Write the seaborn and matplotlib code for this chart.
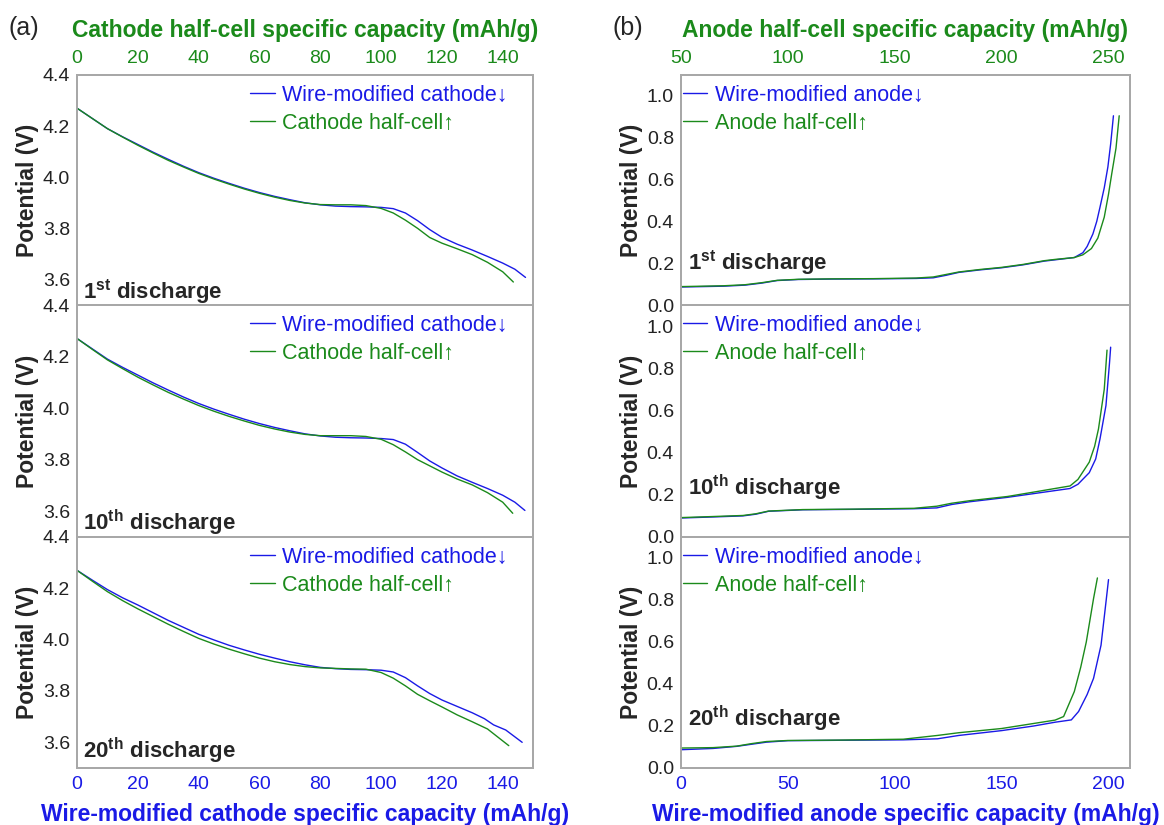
# plot.py
# discharge curves: wire-modified electrodes vs half-cells (cathode left, anode right)

import numpy as np
import pandas as pd
import matplotlib
matplotlib.use("Agg")
import matplotlib.pyplot as plt
import seaborn as sns

sns.set_style("white")
# fonts have to be set after seaborn or they get reset
plt.rcParams['font.family'] = ['Liberation Sans', 'DejaVu Sans']
plt.rcParams['mathtext.fontset'] = 'custom'
plt.rcParams['mathtext.rm'] = 'Liberation Sans'
plt.rcParams['mathtext.bf'] = 'Liberation Sans:bold'

BLUE = '#1a1ae6'
GREEN = '#1b8a1b'
GRAY = '#a8a8a8'

# ---- cathode data (capacity mAh/g, potential V) ----
# wire-modified cathode (bottom axis) and cathode half-cell (top axis)
cat1_blue_x = [0, 5, 10, 15, 20, 25, 30, 35, 40, 45, 50, 55, 60, 65, 70, 75, 80, 85, 90, 95, 100, 104, 108, 112, 116, 120, 125, 130, 135, 140, 144, 147.5]
cat1_blue_v = [4.27, 4.23, 4.19, 4.158, 4.128, 4.098, 4.07, 4.043, 4.018, 3.996, 3.976, 3.957, 3.94, 3.925, 3.912, 3.900, 3.892, 3.887, 3.885, 3.884, 3.882, 3.877, 3.86, 3.83, 3.795, 3.765, 3.738, 3.715, 3.69, 3.664, 3.64, 3.608]
cat1_green_x = [0, 5, 10, 15, 20, 25, 30, 35, 40, 45, 50, 55, 60, 65, 70, 75, 80, 85, 90, 95, 100, 104, 108, 112, 116, 120, 125, 130, 135, 140, 143.5]
cat1_green_v = [4.27, 4.23, 4.19, 4.157, 4.125, 4.095, 4.066, 4.04, 4.015, 3.993, 3.973, 3.954, 3.937, 3.922, 3.909, 3.899, 3.893, 3.892, 3.892, 3.889, 3.878, 3.86, 3.832, 3.80, 3.764, 3.742, 3.72, 3.697, 3.667, 3.63, 3.59]

cat10_blue_x = [0, 5, 10, 15, 20, 25, 30, 35, 40, 45, 50, 55, 60, 65, 70, 75, 80, 85, 90, 95, 100, 104, 108, 112, 116, 120, 125, 130, 135, 140, 144, 147.3]
cat10_blue_v = [4.27, 4.23, 4.19, 4.158, 4.128, 4.098, 4.07, 4.043, 4.018, 3.996, 3.976, 3.957, 3.94, 3.925, 3.912, 3.900, 3.892, 3.887, 3.885, 3.884, 3.882, 3.878, 3.86, 3.828, 3.795, 3.768, 3.737, 3.712, 3.688, 3.662, 3.635, 3.603]
cat10_green_x = [0, 5, 10, 15, 20, 25, 30, 35, 40, 45, 50, 55, 60, 65, 70, 75, 80, 85, 90, 95, 100, 104, 108, 112, 116, 120, 125, 130, 135, 140, 143.3]
cat10_green_v = [4.27, 4.228, 4.187, 4.153, 4.12, 4.09, 4.061, 4.035, 4.01, 3.988, 3.968, 3.95, 3.933, 3.919, 3.907, 3.898, 3.893, 3.893, 3.893, 3.89, 3.879, 3.858, 3.83, 3.80, 3.776, 3.752, 3.725, 3.702, 3.672, 3.635, 3.592]

cat20_blue_x = [0, 5, 10, 15, 20, 25, 30, 35, 40, 45, 50, 55, 60, 65, 70, 75, 80, 85, 90, 95, 100, 104, 108, 112, 116, 120, 125, 130, 134, 137, 141, 146.4]
cat20_blue_v = [4.27, 4.232, 4.195, 4.163, 4.135, 4.105, 4.075, 4.048, 4.021, 3.999, 3.978, 3.96, 3.943, 3.928, 3.914, 3.902, 3.892, 3.887, 3.884, 3.883, 3.881, 3.874, 3.852, 3.82, 3.79, 3.765, 3.74, 3.715, 3.692, 3.668, 3.648, 3.60]
cat20_green_x = [0, 5, 10, 15, 20, 25, 30, 35, 40, 45, 50, 55, 60, 65, 70, 75, 80, 85, 90, 95, 100, 104, 108, 112, 116, 120, 125, 130, 135, 142]
cat20_green_v = [4.27, 4.228, 4.187, 4.152, 4.12, 4.09, 4.06, 4.032, 4.005, 3.983, 3.963, 3.945, 3.928, 3.914, 3.903, 3.895, 3.890, 3.888, 3.886, 3.885, 3.872, 3.85, 3.82, 3.787, 3.762, 3.738, 3.707, 3.68, 3.652, 3.587]

# ---- anode data ----
# wire-modified anode on bottom axis (0-210), anode half-cell on top axis (50-260)
an1_blue_x = [0, 10, 20, 30, 38, 45, 55, 70, 90, 110, 118, 124, 130, 140, 150, 160, 170, 175, 184, 188, 190, 192.7, 194.5, 196, 198, 199.7, 201, 202.3]
an1_blue_v = [0.086, 0.088, 0.09, 0.095, 0.105, 0.117, 0.122, 0.124, 0.125, 0.127, 0.130, 0.142, 0.156, 0.168, 0.178, 0.192, 0.21, 0.216, 0.227, 0.25, 0.28, 0.34, 0.40, 0.467, 0.56, 0.66, 0.77, 0.905]
an1_green_x = [50, 60, 70, 80, 88, 95, 105, 120, 140, 160, 168, 174, 180, 190, 200, 210, 220, 225, 234, 238, 242, 245, 248, 250, 251.5, 253.5, 255]
an1_green_v = [0.088, 0.09, 0.092, 0.097, 0.107, 0.118, 0.123, 0.125, 0.126, 0.129, 0.134, 0.146, 0.158, 0.170, 0.180, 0.194, 0.212, 0.218, 0.227, 0.24, 0.27, 0.32, 0.42, 0.53, 0.627, 0.75, 0.905]

an10_blue_x = [0, 15, 29, 35, 41, 57, 80, 109, 119.7, 126.6, 135, 152.7, 168, 182, 185.7, 191, 194, 196, 198.8, 200.5, 201]
an10_blue_v = [0.09, 0.095, 0.10, 0.108, 0.122, 0.129, 0.131, 0.134, 0.138, 0.154, 0.167, 0.188, 0.21, 0.23, 0.25, 0.305, 0.37, 0.464, 0.623, 0.83, 0.90]
an10_green_x = [50, 65, 79, 85, 91, 107, 130, 159, 169.7, 176.6, 185, 202.7, 218, 232, 235.7, 241, 243.5, 245.3, 248, 249.3]
an10_green_v = [0.092, 0.097, 0.102, 0.11, 0.123, 0.13, 0.132, 0.136, 0.146, 0.16, 0.172, 0.192, 0.218, 0.242, 0.273, 0.355, 0.43, 0.512, 0.70, 0.886]

an20_blue_x = [0, 15, 26, 33, 40, 50, 75, 104, 120, 130, 150, 165, 175, 182.6, 186, 190, 193, 196.5, 199, 200]
an20_blue_v = [0.087, 0.093, 0.103, 0.113, 0.123, 0.13, 0.132, 0.134, 0.139, 0.155, 0.178, 0.20, 0.218, 0.229, 0.269, 0.35, 0.427, 0.585, 0.807, 0.897]
an20_green_x = [50, 65, 76, 83, 90, 100, 125, 154, 170, 180, 200, 215, 225, 229, 234, 237, 239.6, 243, 244.8]
an20_green_v = [0.095, 0.097, 0.104, 0.116, 0.126, 0.131, 0.133, 0.137, 0.155, 0.168, 0.188, 0.212, 0.228, 0.245, 0.364, 0.48, 0.60, 0.807, 0.905]

cycles = ['1', '10', '20']
cycle_sup = ['st', 'th', 'th']

cathode_sets = [(cat1_blue_x, cat1_blue_v, cat1_green_x, cat1_green_v),
                (cat10_blue_x, cat10_blue_v, cat10_green_x, cat10_green_v),
                (cat20_blue_x, cat20_blue_v, cat20_green_x, cat20_green_v)]
anode_sets = [(an1_blue_x, an1_blue_v, an1_green_x, an1_green_v),
              (an10_blue_x, an10_blue_v, an10_green_x, an10_green_v),
              (an20_blue_x, an20_blue_v, an20_green_x, an20_green_v)]

cat_ticks = [0, 20, 40, 60, 80, 100, 120, 140]
cat_yticks = [3.6, 3.8, 4.0, 4.2, 4.4]
an_bottom_ticks = [0, 50, 100, 150, 200]
an_top_ticks = [50, 100, 150, 200, 250]
an_yticks = [0.0, 0.2, 0.4, 0.6, 0.8, 1.0]

fig = plt.figure(figsize=(11.64, 8.25), dpi=100)

# panel positions in figure fractions (bottom, height)
rows = [(0.6303, 0.2788), (0.3491, 0.2812), (0.0691, 0.2800)]
left_L, width_L = 0.0662, 0.3918
left_R, width_R = 0.5850, 0.3857

# where the "nth discharge" text sits (axes fraction, baseline)
lab_y_cat = [0.03, 0.03, 0.042]
lab_y_an = [0.155, 0.18, 0.182]


def style(ax, tw, yticks, ylim):
    ax.set_ylim(ylim)
    ax.set_yticks(yticks)
    ax.set_yticklabels([f'{t:.1f}' for t in yticks])
    ax.tick_params(axis='both', length=0, pad=5, labelsize=14, labelcolor='#222222')
    tw.tick_params(axis='x', length=0, pad=6, labelsize=14)
    for a in (ax, tw):
        for s in a.spines.values():
            s.set_color(GRAY)
            s.set_linewidth(1.3)
    ax.set_ylabel('Potential (V)', fontsize=16.5, fontweight='bold', labelpad=3)
    ax.set_xlabel('')
    tw.set_xlabel('')


def draw(ax, tw, bx, bv, gx, gv):
    d_blue = pd.DataFrame({'cap': bx, 'v': bv})
    d_green = pd.DataFrame({'cap': gx, 'v': gv})
    sns.lineplot(data=d_blue, x='cap', y='v', ax=ax, color=BLUE, lw=1.0,
                 estimator=None, sort=False, legend=False)
    sns.lineplot(data=d_green, x='cap', y='v', ax=tw, color=GREEN, lw=1.0,
                 estimator=None, sort=False, legend=False)
    return ax.get_lines()[0], tw.get_lines()[0]


def add_legend(tw, h1, h2, labels, x0):
    leg = tw.legend([h1, h2], labels, loc='upper left', bbox_to_anchor=(x0, 0.958),
                    frameon=False, fontsize=15.5, handlelength=1.15, handletextpad=0.33,
                    borderpad=0, borderaxespad=0, labelspacing=0.33)
    for t, c in zip(leg.get_texts(), [BLUE, GREEN]):
        t.set_color(c)


for i in range(3):
    bottom, height = rows[i]
    label = r'%s$^{\mathbf{%s}}$ discharge' % (cycles[i], cycle_sup[i])

    # --- cathode (a) ---
    ax = fig.add_axes([left_L, bottom, width_L, height])
    tw = ax.twiny()
    bx, bv, gx, gv = cathode_sets[i]
    h1, h2 = draw(ax, tw, bx, bv, gx, gv)
    ax.set_xlim(0, 150)
    tw.set_xlim(0, 150)
    ax.set_xticks(cat_ticks)
    tw.set_xticks(cat_ticks)
    style(ax, tw, cat_yticks, (3.5, 4.4))
    ax.tick_params(axis='x', labelcolor=BLUE, labelbottom=(i == 2), pad=6)
    tw.tick_params(axis='x', labelcolor=GREEN, labeltop=(i == 0))
    add_legend(tw, h1, h2, ['Wire-modified cathode\u2193', 'Cathode half-cell\u2191'], 0.379)
    ax.text(0.013, lab_y_cat[i], label, transform=ax.transAxes,
            fontsize=16, fontweight='bold', va='baseline', ha='left')
    if i == 0:
        tw.set_xlabel('Cathode half-cell specific capacity (mAh/g)', color=GREEN,
                      fontsize=16.5, fontweight='bold', labelpad=9)
    if i == 2:
        ax.set_xlabel('Wire-modified cathode specific capacity (mAh/g)', color=BLUE,
                      fontsize=16.5, fontweight='bold', labelpad=7)

    # --- anode (b) ---
    ax = fig.add_axes([left_R, bottom, width_R, height])
    tw = ax.twiny()
    bx, bv, gx, gv = anode_sets[i]
    h1, h2 = draw(ax, tw, bx, bv, gx, gv)
    ax.set_xlim(0, 210)
    tw.set_xlim(50, 260)
    ax.set_xticks(an_bottom_ticks)
    tw.set_xticks(an_top_ticks)
    style(ax, tw, an_yticks, (0.0, 1.1))
    ax.tick_params(axis='x', labelcolor=BLUE, labelbottom=(i == 2), pad=6)
    tw.tick_params(axis='x', labelcolor=GREEN, labeltop=(i == 0))
    add_legend(tw, h1, h2, ['Wire-modified anode\u2193', 'Anode half-cell\u2191'], 0.004)
    ax.text(0.016, lab_y_an[i], label, transform=ax.transAxes,
            fontsize=16, fontweight='bold', va='baseline', ha='left')
    if i == 0:
        tw.set_xlabel('Anode half-cell specific capacity (mAh/g)', color=GREEN,
                      fontsize=16.5, fontweight='bold', labelpad=9)
    if i == 2:
        ax.set_xlabel('Wire-modified anode specific capacity (mAh/g)', color=BLUE,
                      fontsize=16.5, fontweight='bold', labelpad=7)

fig.text(0.007, 0.966, '(a)', fontsize=18, va='center', ha='left')
fig.text(0.526, 0.966, '(b)', fontsize=18, va='center', ha='left')

plt.savefig('out.png', dpi=100)
plt.close()
